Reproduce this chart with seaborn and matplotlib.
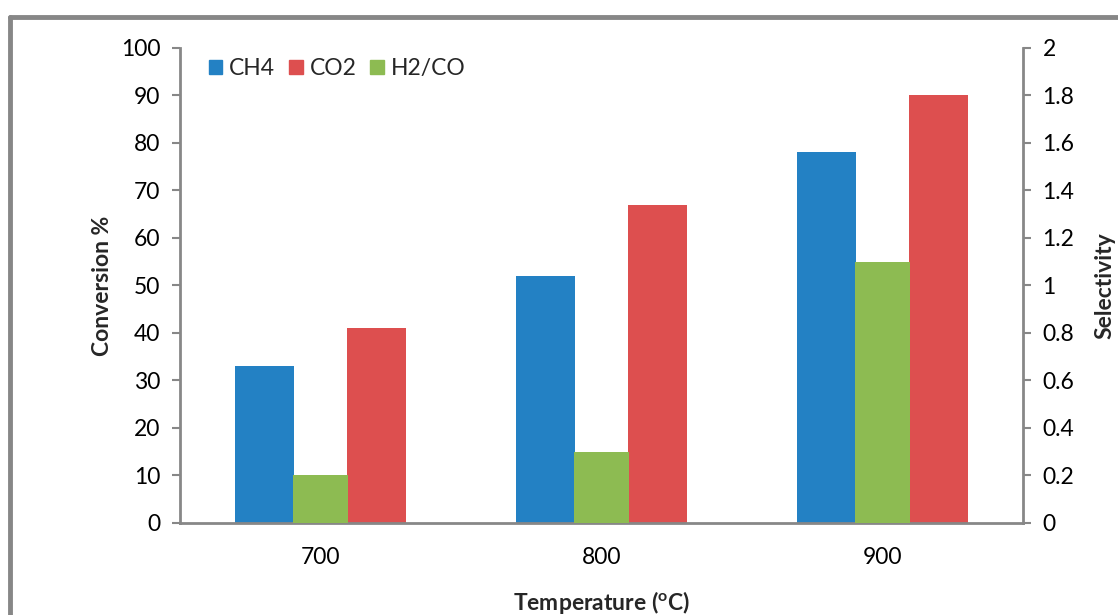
import matplotlib
matplotlib.use("Agg")
import matplotlib.pyplot as plt
import pandas as pd
import seaborn as sns
from matplotlib.lines import Line2D
from matplotlib.patches import Patch

temperatures = ['700', '800', '900']
ch4_conv = [33, 52, 78]
co2_conv = [41, 67, 90]
h2co_sel = [0.2, 0.3, 1.1]

colors = {'CH4': '#2381C4', 'CO2': '#DD4F4F', 'H2/CO': '#8DBB52'}
axis_grey = '#878787'

sns.set_style('white')
plt.rcParams['font.family'] = ['Lato', 'DejaVu Sans']
plt.rcParams['mathtext.fontset'] = 'custom'
plt.rcParams['mathtext.bf'] = 'Lato:bold'
plt.rcParams['mathtext.rm'] = 'Lato'

df_conv = pd.DataFrame({
    'Temperature': temperatures * 2,
    'Conversion': ch4_conv + co2_conv,
    'Gas': ['CH4'] * 3 + ['CO2'] * 3,
})
df_sel = pd.DataFrame({'Temperature': temperatures, 'Selectivity': h2co_sel})

fig = plt.figure(figsize=(11.18, 6.15), dpi=100)
ax = fig.add_axes([0.161, 0.1496, 0.754, 0.7724])

sns.barplot(data=df_conv, x='Temperature', y='Conversion', hue='Gas',
            palette=colors, width=0.8, gap=0.475, ax=ax, legend=False,
            saturation=1, linewidth=0)
ax2 = ax.twinx()
sns.barplot(data=df_sel, x='Temperature', y='Selectivity', color=colors['H2/CO'],
            width=0.196, ax=ax2, saturation=1, linewidth=0)

ax.set_xlim(-0.5, 2.5)
ax.set_ylim(0, 100)
ax.set_yticks(range(0, 101, 10))
ax2.set_ylim(0, 2)
ax2.set_yticks([0, 0.2, 0.4, 0.6, 0.8, 1, 1.2, 1.4, 1.6, 1.8, 2])
ax2.set_yticklabels(['0', '0.2', '0.4', '0.6', '0.8', '1', '1.2', '1.4', '1.6', '1.8', '2'])

fs = 16.5
for a in (ax, ax2):
    for s in a.spines.values():
        s.set_visible(False)
    a.tick_params(axis='both', labelsize=fs, colors=axis_grey, labelcolor='black',
                  length=6, width=1.5, pad=8)
    a.tick_params(axis='x', length=0, pad=17)
ax.spines['left'].set_visible(True)
ax.spines['bottom'].set_visible(True)
ax2.spines['right'].set_visible(True)
for s in (ax.spines['left'], ax.spines['bottom'], ax2.spines['right']):
    s.set_color(axis_grey)
    s.set_linewidth(2)
ax.tick_params(axis='y', left=True, direction='out')
ax2.tick_params(axis='y', right=True, direction='out')

ax.set_xlabel(r'Temperature ($\mathbf{^o}$C)', fontsize=fs, fontweight='bold')
ax.xaxis.set_label_coords(0.5, -0.138)
ax.set_ylabel('Conversion %', fontsize=fs, fontweight='bold')
ax.yaxis.set_label_coords(-0.079, 0.5)
ax2.set_ylabel('Selectivity', fontsize=fs, fontweight='bold')
ax2.yaxis.set_label_coords(1.085, 0.5)

handles = [Patch(color=colors[k], label=k) for k in ['CH4', 'CO2', 'H2/CO']]
ax.legend(handles=handles, loc='upper left', bbox_to_anchor=(0.034, 0.979), ncol=3,
          frameon=False, fontsize=fs, handlelength=0.6, handleheight=0.6,
          handletextpad=0.3, columnspacing=0.6, borderpad=0, borderaxespad=0)

# outer chart frame like Excel
fig.add_artist(Line2D([10 / 1118, 10 / 1118], [0, 1 - 17 / 615], color=axis_grey,
                      linewidth=3.5, transform=fig.transFigure))
fig.add_artist(Line2D([10 / 1118, 1], [1 - 17 / 615, 1 - 17 / 615], color=axis_grey,
                      linewidth=3.5, transform=fig.transFigure))

fig.savefig('out.png', dpi=100)
